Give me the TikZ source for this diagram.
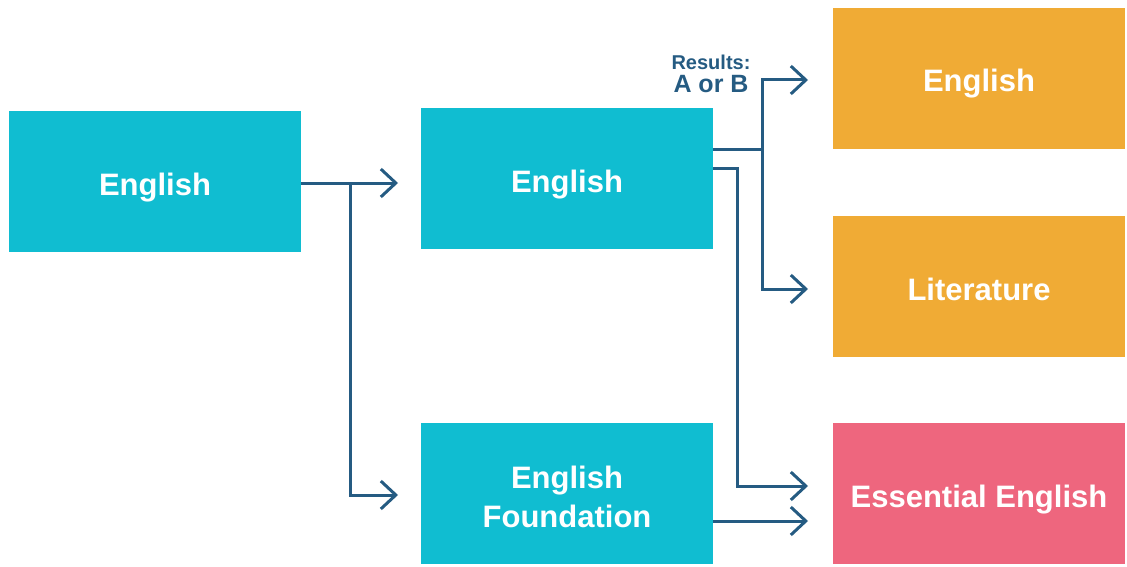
\documentclass[tikz,border=0pt]{standalone}
\usepackage{fontspec}
\setmainfont{Liberation Sans}
\usetikzlibrary{arrows.meta}
\definecolor{cyanbox}{HTML}{10BDD1}
\definecolor{orangebox}{HTML}{F0AB35}
\definecolor{pinkbox}{HTML}{EE667E}
\definecolor{linkblue}{HTML}{255B82}
\begin{document}
\begin{tikzpicture}[x=1pt,y=-1pt,
  box/.style={minimum width=292pt,minimum height=141pt,inner sep=0pt,outer sep=0pt,
    text=white,font=\fontsize{31}{39}\selectfont\bfseries,align=center,
    text height=27pt,text depth=0pt},
  link/.style={draw=linkblue,line width=3pt},
  tip/.style={-{Straight Barb[length=15pt,width=28pt,line width=3pt]}}]
\useasboundingbox (0,0) rectangle (1127,567);
\node[box,fill=cyanbox] (a) at (155,181.5) {English};
\node[box,fill=cyanbox] (b) at (567,178.5) {English};
\node[box,fill=cyanbox,text height=67pt] (c) at (567,493.5) {English\\Foundation};
\node[box,fill=orangebox] (d) at (979,78.5) {English};
\node[box,fill=orangebox] (e) at (979,286.5) {Literature};
\node[box,fill=pinkbox] (f) at (979,493.5) {Essential English};
\coordinate (a1) at (398,183);
\coordinate (a2) at (398,495);
\coordinate (j1) at (350,183);
\coordinate (d1) at (808,80);
\coordinate (e1) at (808,289);
\coordinate (f1) at (808,486);
\coordinate (f2) at (808,521);
\coordinate (j2) at (762,150);
\coordinate (j3) at (737,168);
\draw[link,tip] (a.east |- a1) -- (a1);
\draw[link,tip] (j1) |- (a2);
\draw[link] (b.east |- j2) -- (j2);
\draw[link,tip] (j2) |- (d1);
\draw[link,tip] (j2) |- (e1);
\draw[link,tip] (b.east |- j3) -| (737,486) -- (f1);
\draw[link,tip] (c.east |- f2) -- (f2);
\node[text=linkblue,font=\fontsize{20}{26}\selectfont\bfseries,align=center,inner sep=0pt] (r) at (711,74)
  {Results:\\[-3pt]{\fontsize{25}{26}\selectfont A or B}};
\end{tikzpicture}
\end{document}
